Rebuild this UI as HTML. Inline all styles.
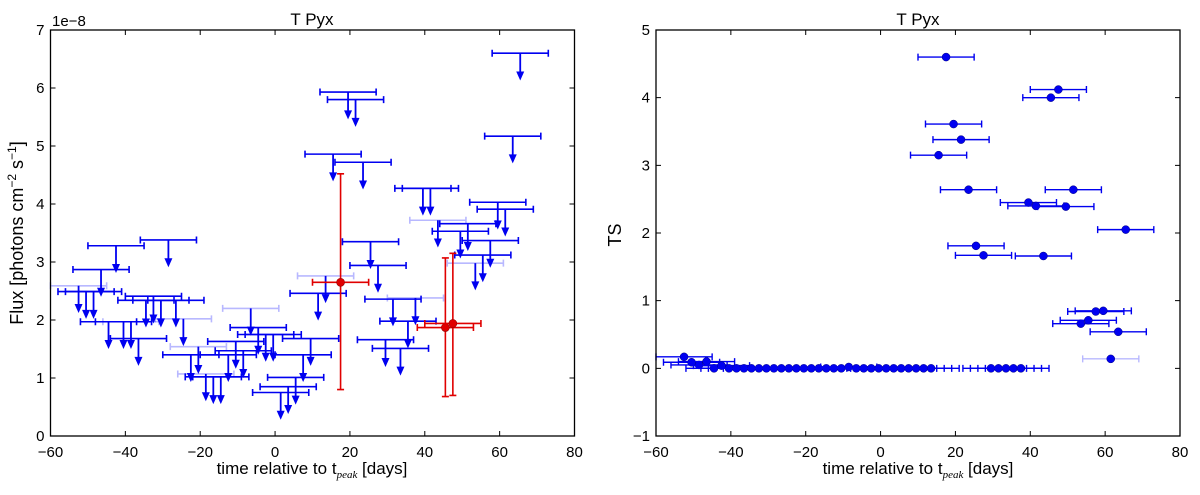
<!DOCTYPE html>
<html><head><meta charset="utf-8"><style>
html,body{margin:0;padding:0;background:#fff;}
svg{display:block;font-family:"Liberation Sans","DejaVu Sans",sans-serif;}
</style></head><body>
<svg id="fig" width="1200" height="495" viewBox="0 0 1200 495" xmlns="http://www.w3.org/2000/svg">
<g id="left"></g>
<g id="right"></g>
</svg>
<script>
// shared time bins (days relative to peak), half-width 7.5 days
const binStart = -52.5, binStep = 2, nBins = 60;
const halfWidth = 7.5;
// Flux upper limits (1e-8 ph cm^-2 s^-1); null = detection
const fluxUL = [2.59,2.49,2.49,2.87,1.97,3.28,1.97,1.97,1.68,2.34,
 2.41,2.34,3.38,2.34,2.02,1.40,1.54,1.07,1.02,1.02,
 1.40,1.63,1.47,2.20,1.87,1.75,1.75,0.75,0.85,1.01,
 1.40,1.68,2.46,2.76,4.86,null,5.93,5.80,4.72,3.35,
 2.94,1.66,2.36,1.51,1.98,2.38,4.27,4.27,3.72,null,
 null,3.53,3.66,2.98,3.12,3.37,4.03,3.91,5.17,6.60];
const arrowLen = 0.47;
const lightLeft = [0,7,14,16,17,23,33,45,48,53];
// detections: bin index, flux, lower, upper
const detBin = [35,49,50];
const detFlux = [2.65,1.87,1.94];
const detLo = [0.80,0.68,0.70];
const detHi = [4.52,3.07,3.15];
// TS values per bin
const tsVals = [0.17,0.09,0.05,0.10,0.00,0.04,0,0,0,0,
 0,0,0,0,0,0,0,0,0,0,
 0,0,0.02,0,0,0,0,0,0,0,
 0,0,0,0,3.15,4.60,3.61,3.38,2.64,1.81,
 1.67,0,0,0,0,0,2.45,2.40,1.66,4.00,
 4.12,2.39,2.64,0.66,0.71,0.84,0.85,0.14,0.54,2.05];
const lightRight = [57];
const xTicks = [-60,-40,-20,0,20,40,60,80];
const yTicksL = [0,1,2,3,4,5,6,7];
const yTicksR = [-1,0,1,2,3,4,5];

const NS = "http://www.w3.org/2000/svg";
function mk(parent, tag, attrs){const e=document.createElementNS(NS,tag);for(const k in attrs)e.setAttribute(k,attrs[k]);parent.appendChild(e);return e;}
const BLUE="#0000f0", LIGHT="rgba(0,0,255,0.28)", RED="#e00000";

function axes(g, x0, x1, y0, y1, xmin, xmax, ymin, ymax, yt){
  const sx = v => x0 + (v - xmin) / (xmax - xmin) * (x1 - x0);
  const sy = v => y1 - (v - ymin) / (ymax - ymin) * (y1 - y0);
  xTicks.forEach(t=>{
    const X=sx(t);
    const tk=mk(g,'path',{d:`M${X} ${y1}v-5M${X} ${y0}v5`,stroke:'#000','stroke-width':1});
    
    
    const lb=mk(g,'text',{x:X,y:y1+21,'font-size':15,'text-anchor':'middle',fill:'#000'});
    lb.textContent=(t<0?'\u2212'+(-t):t);
    
    
  });
  yt.forEach(t=>{
    const Y=sy(t);
    const tk=mk(g,'path',{d:`M${x0} ${Y}h5M${x1} ${Y}h-5`,stroke:'#000','stroke-width':1});
    
    
    const lb=mk(g,'text',{x:x0-6,y:Y+5,'font-size':15,'text-anchor':'end',fill:'#000'});
    lb.textContent=(t<0?'\u2212'+(-t):t);
    
    
  });
  return {sx, sy};
}
function frame(g,x0,x1,y0,y1){
  const f=mk(g,'rect',{x:x0,y:y0,width:x1-x0,height:y1-y0,fill:'none',stroke:'#000','stroke-width':1.3});
  
  
}
function hbar(g,sx,Y,xc,col,w){
  const a=sx(xc-halfWidth), b=sx(xc+halfWidth);
  const p=mk(g,'path',{d:`M${a} ${Y}H${b}M${a} ${Y-3.5}v7M${b} ${Y-3.5}v7`,stroke:col,'stroke-width':w,fill:'none'});
  return p;
}
function xlabel(g,cx){
  const t=mk(g,'text',{x:cx,y:474,'font-size':17,'text-anchor':'middle',fill:'#000'});
  t.innerHTML='time relative to t<tspan font-size="11" font-style="italic" font-family="Liberation Serif,serif" dy="4">peak</tspan><tspan dy="-4"> [days]</tspan>';
  
  
}

// LEFT PANEL
(function(){
  const g=document.getElementById('left');
  const x0=50.5,x1=574.5,y0=30,y1=436;
  const {sx,sy}=axes(g,x0,x1,y0,y1,-60,80,0,7,yTicksL);
  for(let k=0;k<nBins;k++){
    const v=fluxUL[k]; if(v===null) continue;
    const xc=binStart+k*binStep;
    const col=lightLeft.includes(k)?LIGHT:BLUE;
    const ul=mk(g,'g',{});
    
    
    const Y=sy(v), X=sx(xc), Ye=sy(v-arrowLen);
    hbar(ul,sx,Y,xc,col,1.6);
    mk(ul,'line',{x1:X,y1:Y,x2:X,y2:Ye-7,stroke:BLUE,'stroke-width':1.8});
    mk(ul,'path',{d:`M${X-4} ${Ye-9}L${X+4} ${Ye-9}L${X} ${Ye}Z`,fill:BLUE});
  }
  detBin.forEach((k,i)=>{
    const xc=binStart+k*binStep;
    const d=mk(g,'g',{});
    
    
    const X=sx(xc),Y=sy(detFlux[i]),Ya=sy(detHi[i]),Yb=sy(detLo[i]);
    hbar(d,sx,Y,xc,RED,1.6);
    mk(d,'path',{d:`M${X} ${Ya}V${Yb}M${X-3.5} ${Ya}h7M${X-3.5} ${Yb}h7`,stroke:RED,'stroke-width':1.6,fill:'none'});
    mk(d,'circle',{cx:X,cy:Y,r:4,fill:RED,stroke:'#900','stroke-width':0.6});
  });
  frame(g,x0,x1,y0,y1);
  const t=mk(g,'text',{x:312,y:25,'font-size':17,'text-anchor':'middle',fill:'#000'});t.textContent='T Pyx';
  
  
  const e=mk(g,'text',{x:52,y:26,'font-size':15,fill:'#000'});e.textContent='1e\u22128';
  
  
  const yl=mk(g,'text',{x:0,y:0,'font-size':18,'text-anchor':'middle',fill:'#000',transform:'translate(23,233) rotate(-90)'});
  yl.innerHTML='Flux [photons cm<tspan font-size="12" dy="-7">\u22122</tspan><tspan dy="7"> s</tspan><tspan font-size="12" dy="-7">\u22121</tspan><tspan dy="7">]</tspan>';
  
  
  xlabel(g,312);
})();

// RIGHT PANEL
(function(){
  const g=document.getElementById('right');
  const x0=656,x1=1180,y0=30,y1=436;
  const {sx,sy}=axes(g,x0,x1,y0,y1,-60,80,-1,5,yTicksR);
  for(let k=0;k<nBins;k++){
    const xc=binStart+k*binStep, v=tsVals[k];
    const col=lightRight.includes(k)?LIGHT:BLUE;
    const p=mk(g,'g',{});
    
    
    const X=sx(xc),Y=sy(v);
    hbar(p,sx,Y,xc,col,1.4);
    mk(p,'circle',{cx:X,cy:Y,r:4,fill:BLUE,stroke:'#000080','stroke-width':0.5});
  }
  frame(g,x0,x1,y0,y1);
  const t=mk(g,'text',{x:918,y:25,'font-size':17,'text-anchor':'middle',fill:'#000'});t.textContent='T Pyx';
  
  
  const yl=mk(g,'text',{x:0,y:0,'font-size':18,'text-anchor':'middle',fill:'#000',transform:'translate(621,235) rotate(-90)'});
  yl.textContent='TS';
  
  
  xlabel(g,918);
})();
</script>
</body></html>
